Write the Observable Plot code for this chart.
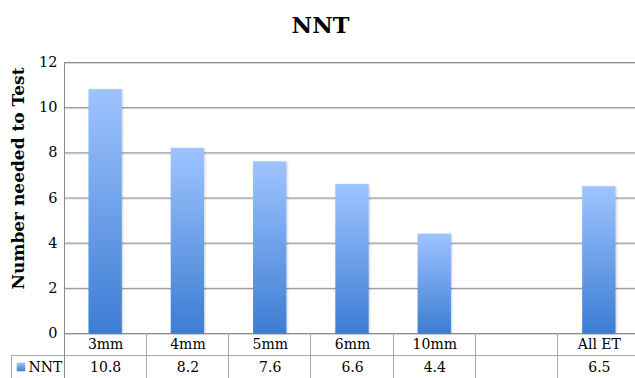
<!DOCTYPE html>
<html>
<head>
<meta charset="utf-8">
<script src="https://cdn.jsdelivr.net/npm/d3@7"></script>
<script src="https://cdn.jsdelivr.net/npm/@observablehq/plot@0.6"></script>
<style>
  html, body { margin: 0; padding: 0; background: #fff; overflow: hidden; width: 635px; height: 378px; }
  #chart svg { display: block; max-width: none !important; }
</style>
</head>
<body>
<div id="chart"></div>
<script>
// Chart data
const categories = ["3mm", "4mm", "5mm", "6mm", "10mm", "", "All ET"];
const values = [10.8, 8.2, 7.6, 6.6, 4.4, null, 6.5];
const seriesName = "NNT";
const yTicks = [0, 2, 4, 6, 8, 10, 12];
const title = "NNT";
const yLabel = "Number needed to Test";

const rows = categories.map((cat, i) => ({cat, value: values[i]}));

const W = 640, H = 378;
const mLeft = 64, mTop = 62, mBottom = 45;
const rowH = 22.5;           // data-table row height
const tableLeft = 11;        // left edge of the series-name column
const gridColor = "#8c8c8c";
const tableColor = "#a9a9a9";

const plot = Plot.plot({
  width: W,
  height: H,
  marginLeft: mLeft,
  marginRight: 0,
  marginTop: mTop,
  marginBottom: mBottom,
  style: {fontFamily: "DejaVu Serif", fontSize: "14px", color: "#000", background: "#fff", overflow: "visible", maxWidth: "none"},
  x: {domain: categories, paddingInner: 0.595, paddingOuter: 0.2975, round: false, axis: null},
  y: {domain: [0, 12], axis: null},
  marks: [
    // gridlines with a faint shadow beneath
    Plot.ruleY(yTicks, {stroke: "#d9d9d9", dy: 1}),
    Plot.ruleY(yTicks, {stroke: gridColor}),
    // bars
    Plot.barY(rows, {x: "cat", y: "value", fill: "url(#nntGradient)"}),
    // y tick labels
    Plot.text(yTicks, {y: d => d, text: d => String(d), frameAnchor: "left", textAnchor: "end", dx: -7, fontSize: 14.5}),
    // data table: category row and value row
    Plot.text(rows, {x: "cat", text: "cat", frameAnchor: "bottom", lineAnchor: "middle", dy: 11.5, fontSize: 14}),
    Plot.text(rows, {x: "cat", text: d => d.value == null ? null : d.value.toFixed(1), frameAnchor: "bottom", lineAnchor: "middle", dy: 34, fontSize: 14}),
    // legend key in the table
    Plot.dot([seriesName], {frameAnchor: "bottom-left", dx: -43.5, dy: 33.5, symbol: "square", r: 4.8, fill: "url(#nntGradient)", stroke: null}),
    Plot.text([seriesName], {text: d => d, frameAnchor: "bottom-left", textAnchor: "start", lineAnchor: "middle", dx: -36, dy: 34, fontSize: 14}),
    // title
    Plot.text([title], {text: d => d, frameAnchor: "top-left", textAnchor: "middle", lineAnchor: "middle", dx: 320 - mLeft, dy: -37, fontSize: 22.5, fontWeight: "bold"}),
    // y axis label
    Plot.text([yLabel], {text: d => d, frameAnchor: "left", rotate: -90, textAnchor: "middle", lineAnchor: "middle", dx: -45.5, dy: -19.5, fontSize: 17, fontWeight: "bold"})
  ]
});

const svg = d3.select(plot);
const defs = svg.insert("defs", ":first-child");

// vertical gradient used by the bars and the legend key
const grad = defs.append("linearGradient")
  .attr("id", "nntGradient")
  .attr("x1", 0).attr("y1", 0).attr("x2", 0).attr("y2", 1);
grad.append("stop").attr("offset", "0%").attr("stop-color", "#9ec4ff");
grad.append("stop").attr("offset", "100%").attr("stop-color", "#3d7dd3");

// soft shadow around the bars
defs.append("filter").attr("id", "barShadow")
  .attr("x", "-20%").attr("y", "-5%").attr("width", "140%").attr("height", "110%")
  .append("feDropShadow")
  .attr("dx", 0.8).attr("dy", 0.8).attr("stdDeviation", 1)
  .attr("flood-color", "#000").attr("flood-opacity", 0.22);
svg.selectAll('g[aria-label="bar"]').attr("filter", "url(#barShadow)");

// data-table grid lines, positioned from the plot's own scales
const xs = plot.scale("x");
const ys = plot.scale("y");
const step = xs.step ?? (xs.range[1] - xs.range[0]) / categories.length;
const bw = xs.bandwidth;
const y0 = ys.apply(0);
const lines = svg.append("g").attr("stroke-width", 1).attr("shape-rendering", "crispEdges");

// boundaries between categories
categories.slice(1).forEach(c => {
  const xb = xs.apply(c) + bw / 2 - step / 2;
  lines.append("line").attr("x1", xb).attr("x2", xb).attr("y1", y0).attr("y2", H).attr("stroke", tableColor);
});
// row divider between category and value rows
lines.append("line").attr("x1", tableLeft).attr("x2", W).attr("y1", y0 + rowH).attr("y2", y0 + rowH).attr("stroke", tableColor);
// left border of the series-name cell
lines.append("line").attr("x1", tableLeft).attr("x2", tableLeft).attr("y1", y0 + rowH).attr("y2", H).attr("stroke", tableColor);
// value axis line, running down through the table
lines.append("line").attr("x1", xs.range[0]).attr("x2", xs.range[0]).attr("y1", ys.apply(12)).attr("y2", H).attr("stroke", gridColor);

document.getElementById("chart").append(plot);
</script>
</body>
</html>
